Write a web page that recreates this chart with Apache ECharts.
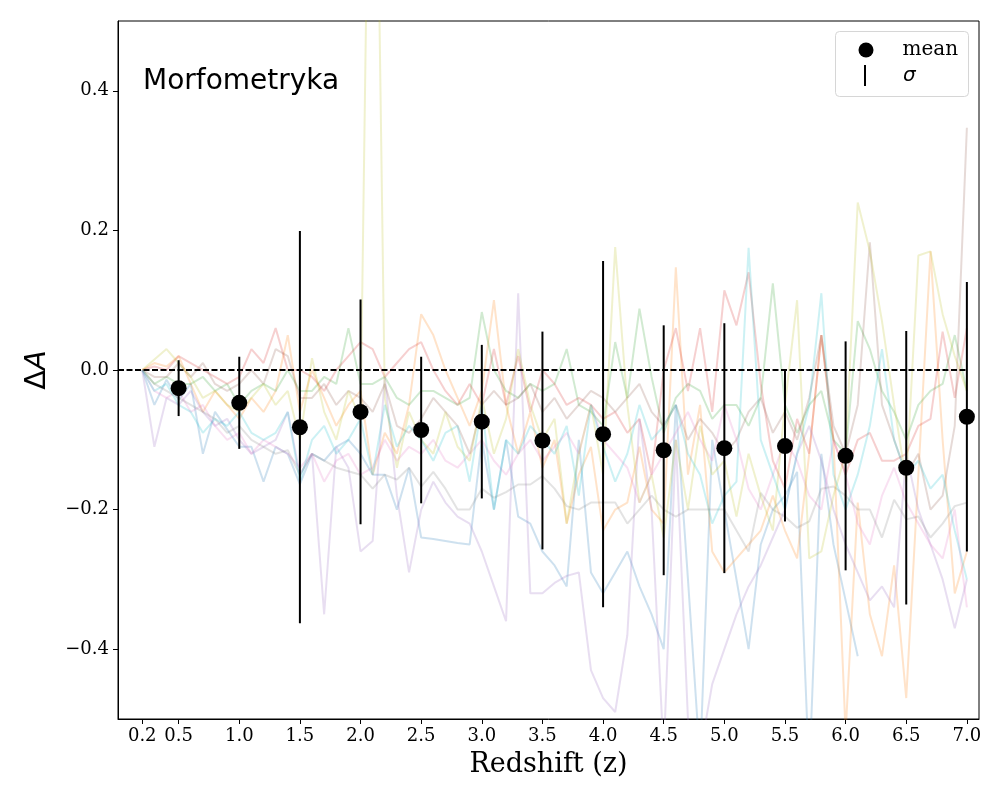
<!DOCTYPE html>
<html>
<head>
<meta charset="utf-8">
<script src="https://cdn.jsdelivr.net/npm/echarts@6/dist/echarts.min.js"></script>
<style>
  html, body { margin: 0; padding: 0; background: #fff; }
  #chart { width: 1000px; height: 800px; }
</style>
</head>
<body>
<div id="chart"></div>
<script>
// redshift samples of the individual tracks
var zSteps = [
  0.2, 0.3, 0.4, 0.5, 0.6, 0.7, 0.8, 0.9, 1.0, 1.1,
  1.2, 1.3, 1.4, 1.5, 1.6, 1.7, 1.8, 1.9, 2.0, 2.1,
  2.2, 2.3, 2.4, 2.5, 2.6, 2.7, 2.8, 2.9, 3.0, 3.1,
  3.2, 3.3, 3.4, 3.5, 3.6, 3.7, 3.8, 3.9, 4.0, 4.1,
  4.2, 4.3, 4.4, 4.5, 4.6, 4.7, 4.8, 4.9, 5.0, 5.1,
  5.2, 5.3, 5.4, 5.5, 5.6, 5.7, 5.8, 5.9, 6.0, 6.1,
  6.2, 6.3, 6.4, 6.5, 6.6, 6.7, 6.8, 6.9, 7.0
];

// faint per-galaxy tracks (one array per track)
var trackBlue = [
  0, -0.05, -0.014, -0.043, -0.02, -0.12, -0.06, -0.085, -0.11, -0.11,
  -0.16, -0.11, -0.12, -0.164, -0.12, -0.13, -0.11, -0.10, -0.12, -0.15,
  -0.15, -0.2, -0.14, -0.24, -0.242, -0.245, -0.248, -0.25, -0.1, -0.2,
  -0.1, -0.21, -0.22, -0.26, -0.28, -0.31, -0.1, -0.29, -0.32, -0.29,
  -0.26, -0.31, -0.35, -0.40, -0.05, -0.3, -0.56, -0.1, -0.2, -0.3,
  -0.40, -0.25, -0.2, -0.18, -0.146, -0.58, -0.12, -0.25, -0.33, -0.41,
  null, null, null, null, null, null, null, null, null
];
var trackOrange = [
  0, 0.01, 0.005, 0.02, -0.02, -0.06, -0.03, -0.05, -0.07, -0.04,
  -0.06, -0.03, 0.05, -0.06, 0.0, -0.04, -0.08, -0.05, -0.03, -0.15,
  -0.09, -0.12, -0.05, 0.08, 0.05, 0.0, -0.04, -0.08, -0.03, 0.10,
  -0.05, -0.12, -0.06, -0.14, -0.10, -0.22, -0.15, -0.11, -0.23, -0.2,
  -0.19, -0.11, -0.2, -0.22, 0.147, -0.15, -0.05, -0.26, -0.29, -0.27,
  -0.25, -0.23, -0.18, -0.23, -0.27, -0.12, 0.05, -0.1, -0.52, -0.19,
  -0.35, -0.41, -0.28, -0.47, -0.15, 0.17, -0.1, -0.32, -0.26
];
var trackGreen = [
  0, -0.02, -0.01, -0.02, -0.02, -0.01, -0.03, -0.02, -0.05, -0.03,
  -0.02, -0.03, 0.0, -0.03, -0.03, -0.01, -0.02, 0.06, -0.02, -0.02,
  -0.01, -0.04, -0.05, -0.03, -0.03, -0.04, -0.05, -0.04, 0.083, 0.0,
  -0.03, -0.04, -0.02, -0.03, -0.02, 0.03, -0.05, -0.06, -0.08, 0.04,
  -0.04, 0.088, -0.01, -0.09, -0.04, -0.02, -0.03, -0.07, -0.05, -0.05,
  -0.08, -0.04, 0.124, -0.05, -0.09, -0.05, -0.03, -0.1, -0.12, 0.07,
  0.03, -0.03, -0.06, -0.1, -0.05, -0.03, -0.02, 0.05, -0.03
];
var trackRed = [
  0, 0.005, 0.0, 0.02, 0.01, 0.0, -0.01, -0.02, -0.01, 0.03,
  0.01, 0.06, 0.0, 0.0, -0.01, -0.03, 0.0, 0.02, 0.04, 0.03,
  -0.01, 0.01, 0.03, 0.04, 0.0, -0.03, -0.05, -0.02, -0.05, 0.03,
  -0.05, 0.02, -0.06, 0.0, -0.02, -0.05, -0.04, -0.05, -0.07, -0.06,
  -0.09, -0.07, -0.15, 0.0, 0.06, -0.03, 0.06, -0.06, 0.114, 0.064,
  0.14, -0.02, -0.13, -0.17, -0.07, -0.12, 0.05, -0.1, -0.15, -0.1,
  -0.09, -0.13, -0.13, -0.12, -0.08, -0.07, 0.055, -0.04, 0.06
];
var trackPurple = [
  0, -0.11, -0.04, -0.05, -0.03, -0.06, -0.08, -0.07, -0.1, -0.12,
  -0.11, -0.1, -0.06, -0.15, -0.12, -0.35, -0.11, -0.14, -0.26, -0.245,
  -0.01, -0.18, -0.29, -0.2, -0.16, -0.19, -0.21, -0.22, -0.26, -0.31,
  -0.36, 0.11, -0.32, -0.32, -0.305, -0.295, -0.29, -0.43, -0.47, -0.49,
  -0.38, -0.07, -0.2, -0.55, -0.1, -0.5, -0.55, -0.45, -0.4, -0.35,
  -0.31, -0.28, -0.24, -0.2, -0.12, -0.08, -0.13, -0.2, -0.25, -0.29,
  -0.33, -0.31, -0.34, -0.12, -0.2, -0.25, -0.3, -0.37, -0.3
];
var trackBrown = [
  0, -0.01, -0.01, 0.01, -0.01, 0.01, -0.02, -0.03, -0.02, 0.0,
  -0.02, 0.03, 0.02, -0.04, -0.04, -0.02, -0.05, -0.03, -0.04, -0.06,
  -0.02, -0.08, -0.09, -0.07, -0.04, -0.06, -0.08, -0.12, -0.05, -0.03,
  -0.05, -0.04, -0.02, -0.06, -0.04, -0.07, -0.05, -0.03, -0.04, -0.06,
  -0.04, -0.02, -0.06, -0.08, -0.05, -0.1, -0.07, -0.09, -0.12, -0.1,
  -0.06, -0.04, -0.09, -0.06, -0.1, -0.04, 0.05, -0.08, -0.12, -0.05,
  0.183, -0.05, -0.1, -0.15, -0.12, -0.2, -0.18, -0.08, 0.347
];
var trackPink = [
  0, -0.03, -0.04, -0.03, -0.06, -0.05, -0.08, -0.1, -0.09, -0.12,
  -0.1, -0.11, -0.12, -0.14, -0.12, -0.16, -0.13, -0.12, -0.15, -0.14,
  -0.1, -0.13, -0.11, -0.12, -0.1, -0.13, -0.14, -0.12, -0.1, -0.13,
  -0.15, -0.12, -0.1, -0.13, -0.11, -0.09, -0.12, -0.05, -0.1, -0.12,
  -0.14, -0.19, -0.15, -0.12, -0.09, -0.06, -0.1, -0.13, -0.05, -0.1,
  -0.17, -0.2, -0.15, -0.1, -0.13, -0.18, -0.2, -0.1, -0.15, -0.22,
  -0.25, -0.18, -0.14, -0.19, -0.22, -0.25, -0.27, -0.2, -0.34
];
var trackGray = [
  0, -0.02, -0.03, -0.04, -0.05, -0.06, -0.07, -0.09, -0.08, -0.1,
  -0.11, -0.12, -0.115, -0.15, -0.12, -0.13, -0.14, -0.145, -0.15, -0.17,
  -0.15, -0.157, -0.14, -0.167, -0.146, -0.17, -0.2, -0.2, -0.17, -0.183,
  -0.175, -0.164, -0.164, -0.152, -0.17, -0.195, -0.2, -0.19, -0.19, -0.19,
  -0.22, -0.2, -0.18, -0.2, -0.21, -0.2, -0.2, -0.2, -0.2, -0.23,
  -0.26, -0.176, -0.2, -0.21, -0.226, -0.217, -0.17, -0.167, -0.18, -0.2,
  -0.2, -0.24, -0.186, -0.214, -0.21, -0.24, -0.22, -0.195, -0.19
];
var trackOlive = [
  0, 0.015, 0.03, 0.01, -0.01, -0.04, -0.03, -0.05, -0.06, -0.04,
  -0.02, -0.05, -0.03, -0.1, 0.017, -0.06, -0.1, -0.03, -0.07, 1.2,
  -0.04, -0.14, -0.06, -0.1, -0.12, -0.06, -0.11, -0.13, -0.04, -0.12,
  -0.07, 0.03, -0.05, -0.1, -0.07, -0.22, -0.12, -0.05, -0.15, 0.176,
  -0.05, -0.19, -0.15, -0.24, -0.1, -0.2, -0.08, -0.15, -0.13, -0.21,
  -0.12, -0.18, -0.23, -0.05, 0.10, -0.27, -0.26, -0.18, -0.12, 0.24,
  0.17, 0.07, -0.05, -0.16, 0.164, 0.17, 0.08, 0.02, -0.03
];
var trackCyan = [
  0, -0.03, -0.02, -0.05, -0.06, -0.09, -0.07, -0.08, -0.06, -0.09,
  -0.1, -0.09, -0.06, -0.16, -0.1, -0.08, -0.12, -0.1, -0.07, -0.15,
  -0.05, -0.11, -0.08, -0.1, -0.13, -0.09, -0.08, -0.16, -0.05, -0.2,
  -0.1, -0.12, -0.08, -0.1, -0.12, -0.08, -0.18, -0.05, -0.11, -0.16,
  -0.12, -0.05, -0.1, -0.08, -0.05, -0.12, -0.15, -0.22, -0.18, -0.16,
  0.175, -0.1, -0.15, -0.2, -0.12, -0.05, 0.11, -0.15, -0.2, -0.15,
  -0.08, 0.03, -0.1, -0.15, -0.13, -0.17, -0.15, -0.23, -0.3
];

// binned mean and standard deviation
var meanZ = [0.5, 1.0, 1.5, 2.0, 2.5, 3.0, 3.5, 4.0, 4.5, 5.0, 5.5, 6.0, 6.5, 7.0];
var meanVals = [-0.026, -0.047, -0.082, -0.060, -0.086, -0.074, -0.101, -0.092, -0.115, -0.112, -0.109, -0.123, -0.140, -0.067];
var sigmaVals = [0.040, 0.066, 0.281, 0.161, 0.105, 0.110, 0.156, 0.248, 0.179, 0.179, 0.108, 0.164, 0.196, 0.193];

// zero reference line: [x start, x end, y]
var zeroLine = [[0, 7.0, 0]];

var xTicks = [0.2, 0.5, 1.0, 1.5, 2.0, 2.5, 3.0, 3.5, 4.0, 4.5, 5.0, 5.5, 6.0, 6.5, 7.0];
var yTicks = [-0.4, -0.2, 0.0, 0.2, 0.4];

var tracks = [trackBlue, trackOrange, trackGreen, trackRed, trackPurple,
              trackBrown, trackPink, trackGray, trackOlive, trackCyan];
var trackColors = ['#1f77b4', '#ff7f0e', '#2ca02c', '#d62728', '#9467bd',
                   '#8c564b', '#e377c2', '#7f7f7f', '#bcbd22', '#17becf'];

var serif = 'DejaVu Serif';
var chart = echarts.init(document.getElementById('chart'), null, { renderer: 'canvas' });

var series = [];
tracks.forEach(function(tr, k) {
  series.push({
    type: 'line', name: 'track' + k,
    data: zSteps.map(function(z, i) { return [z, tr[i]]; }),
    showSymbol: false, connectNulls: false, silent: true,
    lineStyle: { color: trackColors[k], width: 2, opacity: 0.22 },
    z: 1
  });
});

// dashed y = 0
series.push({
  type: 'custom', name: 'zero', silent: true,
  data: zeroLine,
  encode: { x: [0, 1], y: 2 },
  renderItem: function(params, api) {
    var a = api.coord([api.value(0), api.value(2)]);
    var b = api.coord([api.value(1), api.value(2)]);
    return {
      type: 'line',
      shape: { x1: a[0], y1: a[1], x2: b[0], y2: b[1] },
      style: { stroke: '#000', lineWidth: 2, lineDash: [6, 2.5] }
    };
  },
  z: 2
});

series.push({
  type: 'custom', name: 'σ',
  data: meanZ.map(function(z, i) { return [z, meanVals[i], sigmaVals[i]]; }),
  encode: { x: 0, y: 1 },
  itemStyle: { color: '#000' },
  renderItem: function(params, api) {
    var z = api.value(0), m = api.value(1), s = api.value(2);
    var top = api.coord([z, m + s]);
    var bot = api.coord([z, m - s]);
    return {
      type: 'line',
      shape: { x1: top[0], y1: top[1], x2: bot[0], y2: bot[1] },
      style: { stroke: '#000', lineWidth: 2 }
    };
  },
  z: 3
});

series.push({
  type: 'scatter', name: 'mean',
  data: meanZ.map(function(z, i) { return [z, meanVals[i]]; }),
  symbol: 'circle', symbolSize: 16,
  itemStyle: { color: '#000', opacity: 1 },
  z: 4
});

function fmtMinus(v) {
  var s = Number(v).toFixed(1);
  return s.charAt(0) === '-' ? '\u2212' + s.slice(1) : s;
}

chart.setOption({
  animation: false,
  backgroundColor: '#fff',
  title: {
    text: 'Morfometryka', left: 143, top: 68, padding: 0,
    textStyle: { fontFamily: 'DejaVu Sans', fontSize: 28, fontWeight: 'normal', color: '#000' }
  },
  grid: { left: 118, right: 21, top: 21, bottom: 81, show: true, borderColor: '#000', borderWidth: 1, backgroundColor: 'transparent' },
  xAxis: {
    type: 'value', min: 0, max: 7.1,
    name: 'Redshift (z)', nameLocation: 'middle', nameGap: 32,
    nameTextStyle: { fontFamily: serif, fontSize: 27, color: '#000' },
    axisLine: { show: true, onZero: false, lineStyle: { color: '#000', width: 1 } },
    axisTick: { show: true, inside: false, length: 5, lineStyle: { color: '#000' }, customValues: xTicks },
    axisLabel: { color: '#000', fontFamily: serif, fontSize: 18, margin: 8, customValues: xTicks,
                 formatter: function(v) { return fmtMinus(v); } },
    splitLine: { show: false }
  },
  yAxis: {
    type: 'value', min: -0.5, max: 0.5,
    name: '{d|\u0394}{a|A}', nameLocation: 'middle', nameGap: 66, nameRotate: 90,
    nameTextStyle: {
      color: '#000',
      rich: {
        d: { fontFamily: 'DejaVu Sans', fontSize: 29, color: '#000' },
        a: { fontFamily: 'DejaVu Sans', fontStyle: 'italic', fontSize: 29, color: '#000' }
      }
    },
    axisLine: { show: true, onZero: false, lineStyle: { color: '#000', width: 1 } },
    axisTick: { show: true, inside: false, length: 5, lineStyle: { color: '#000' }, customValues: yTicks },
    axisLabel: { color: '#000', fontFamily: serif, fontSize: 18, margin: 9, customValues: yTicks,
                 formatter: function(v) { return fmtMinus(v); } },
    splitLine: { show: false }
  },
  graphic: [{
    type: 'rect', z: 3, silent: true,
    shape: { x: 835.5, y: 31.5, width: 133, height: 65, r: 4 },
    style: { fill: 'rgba(255,255,255,0.8)', stroke: '#d6d6d6', lineWidth: 1 }
  }],
  legend: [{
    data: [{ name: 'mean', icon: 'circle' }],
    left: 858.5, top: 40, padding: 0, itemWidth: 15, itemHeight: 15, itemGap: 0,
    selectedMode: false,
    formatter: function(name) { return '{gap|}' + name; },
    textStyle: { fontFamily: serif, fontSize: 20, color: '#000', rich: { gap: { width: 24 } } }
  }, {
    data: [{ name: '\u03c3', icon: 'path://M0,0h2v21h-2z' }],
    left: 864, top: 65, padding: 0, itemWidth: 2, itemHeight: 21, itemGap: 0,
    selectedMode: false,
    formatter: function(name) { return '{gap|}' + name; },
    textStyle: { fontFamily: 'DejaVu Sans', fontStyle: 'italic', fontSize: 20, color: '#000',
                 rich: { gap: { width: 32 } } }
  }],
  series: series
});
</script>
</body>
</html>
